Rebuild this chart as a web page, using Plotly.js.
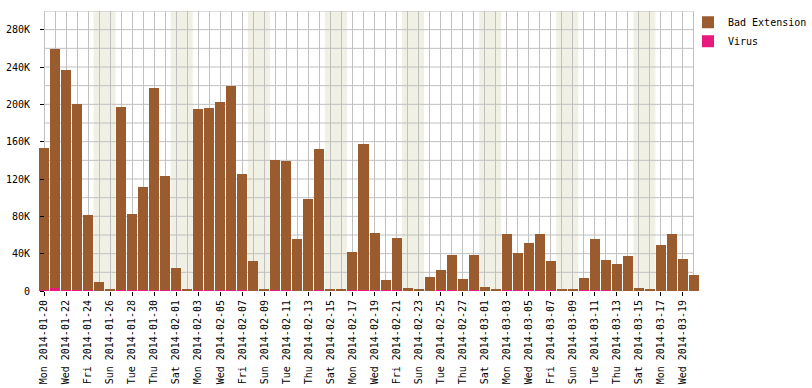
<!DOCTYPE html>
<html>
<head>
<meta charset="utf-8">
<script src="https://cdn.plot.ly/plotly-3.0.1.min.js"></script>
<style>
  html, body { margin: 0; padding: 0; background: #fff; }
  #chart { width: 812px; height: 388px; }
</style>
</head>
<body>
<div id="chart"></div>
<script>
// Dates (one bar per day)
var dates = [
  '2014-01-20','2014-01-21','2014-01-22','2014-01-23','2014-01-24','2014-01-25','2014-01-26',
  '2014-01-27','2014-01-28','2014-01-29','2014-01-30','2014-01-31','2014-02-01','2014-02-02',
  '2014-02-03','2014-02-04','2014-02-05','2014-02-06','2014-02-07','2014-02-08','2014-02-09',
  '2014-02-10','2014-02-11','2014-02-12','2014-02-13','2014-02-14','2014-02-15','2014-02-16',
  '2014-02-17','2014-02-18','2014-02-19','2014-02-20','2014-02-21','2014-02-22','2014-02-23',
  '2014-02-24','2014-02-25','2014-02-26','2014-02-27','2014-02-28','2014-03-01','2014-03-02',
  '2014-03-03','2014-03-04','2014-03-05','2014-03-06','2014-03-07','2014-03-08','2014-03-09',
  '2014-03-10','2014-03-11','2014-03-12','2014-03-13','2014-03-14','2014-03-15','2014-03-16',
  '2014-03-17','2014-03-18','2014-03-19','2014-03-20'
];

// Bad Extension counts
var badExtension = [
  151800, 256200, 235700, 199300, 80200, 9300, 2000,
  195800, 81000, 110000, 216500, 121800, 23600, 2000,
  193800, 194800, 201300, 218600, 124000, 31800, 2000,
  139000, 138000, 55500, 98400, 151000, 2000, 2000,
  40500, 156400, 61000, 10500, 55500, 3000, 2000,
  14700, 21200, 37300, 12600, 37300, 4000, 2000,
  59800, 39400, 50200, 59800, 30800, 2000, 2000,
  12600, 54500, 32000, 28100, 36700, 3000, 2000,
  49000, 60800, 34000, 16800
];

// Virus counts
var virus = [
  1200, 2800, 1000, 1000, 1000, 0, 0,
  1200, 1000, 1000, 1000, 1200, 800, 0,
  1200, 1200, 1200, 1000, 1000, 0, 0,
  1000, 1000, 0, 0, 1000, 0, 0,
  1000, 1000, 1000, 1000, 1000, 0, 0,
  0, 1000, 1000, 0, 1000, 0, 0,
  1000, 1000, 1000, 1000, 1000, 0, 0,
  1000, 1000, 1000, 500, 500, 0, 0,
  0, 0, 0, 0
];

// Y axis tick labels
var yTickVals = [0, 40000, 80000, 120000, 160000, 200000, 240000, 280000];
var yTickText = ['0', '40K', '80K', '120K', '160K', '200K', '240K', '280K'];
var yMax = 300000;
var yGridStep = 20000;

var DAY = 86400000;
function fmt(ms) {
  return new Date(ms).toISOString().slice(0, 16).replace('T', ' ');
}
var firstMs = Date.parse(dates[0] + 'T00:00:00Z');
var lastMs = Date.parse(dates[dates.length - 1] + 'T00:00:00Z');

var GRID = '#c0c0c0';
var shapes = [];

// Weekend shading (Saturday + Sunday columns)
dates.forEach(function (d) {
  var t = Date.parse(d + 'T00:00:00Z');
  if (new Date(t).getUTCDay() === 6) {
    shapes.push({
      type: 'rect', layer: 'below', xref: 'x', yref: 'y',
      x0: fmt(t - DAY / 2), x1: fmt(t + 1.5 * DAY), y0: 0, y1: yMax,
      fillcolor: '#f0f0e4', line: { width: 0 }
    });
  }
});

// Horizontal grid lines limited to the first..last day span (plus top/bottom border)
for (var v = 0; v <= yMax; v += yGridStep) {
  shapes.push({
    type: 'line', layer: 'between', xref: 'x', yref: 'y',
    x0: dates[0], x1: dates[dates.length - 1], y0: v, y1: v,
    line: { color: GRID, width: 1 }
  });
}

var font = { family: 'DejaVu Sans Mono, monospace', size: 10, color: '#000' };

var traces = [
  {
    type: 'bar', name: 'Virus', x: dates, y: virus,
    marker: { color: '#e8197f', line: { width: 0 } },
    hoverinfo: 'x+y+name'
  },
  {
    type: 'bar', name: 'Bad Extension', x: dates, y: badExtension,
    marker: { color: '#9a5b2f', line: { width: 0 } },
    hoverinfo: 'x+y+name'
  }
];

// pixel geometry: paper from x=30 to x=712 (682 px)
var ML = 30, MR = 100, PW = 812 - ML - MR;
var layout = {
  width: 812, height: 388,
  margin: { l: ML, r: MR, t: 11, b: 97, pad: 0, autoexpand: false },
  paper_bgcolor: '#fff', plot_bgcolor: 'rgba(0,0,0,0)',
  font: font,
  barmode: 'stack',
  bargap: 0.09,
  showlegend: true,
  legend: {
    x: (688 - ML) / PW, y: 1.012, xanchor: 'left', yanchor: 'top',
    font: font, bgcolor: 'rgba(0,0,0,0)', itemwidth: 30,
    traceorder: 'reversed'
  },
  xaxis: {
    type: 'date',
    domain: [8.5 / PW, 669.5 / PW],
    range: [fmt(firstMs - DAY / 2), fmt(lastMs + DAY / 2)],
    tick0: dates[0], dtick: 2 * DAY,
    tickformat: '%a %Y-%m-%d',
    tickangle: -90,
    ticks: 'outside', ticklen: 4, tickcolor: '#000', tickwidth: 1,
    showgrid: true, gridcolor: GRID, gridwidth: 1,
    minor: { dtick: DAY, showgrid: true, gridcolor: GRID, gridwidth: 1, ticks: '' },
    showline: false, zeroline: false, tickfont: font, fixedrange: true
  },
  yaxis: {
    range: [0, yMax],
    anchor: 'free', position: 14 / PW,
    tickmode: 'array', tickvals: yTickVals, ticktext: yTickText,
    ticks: 'outside', ticklen: 4, tickcolor: '#000', tickwidth: 1,
    ticklabelstandoff: 8,
    showgrid: false, showline: false, zeroline: false,
    tickfont: font, fixedrange: true
  },
  shapes: shapes
};

Plotly.newPlot('chart', traces, layout, { displayModeBar: false, staticPlot: true });
</script>
</body>
</html>
